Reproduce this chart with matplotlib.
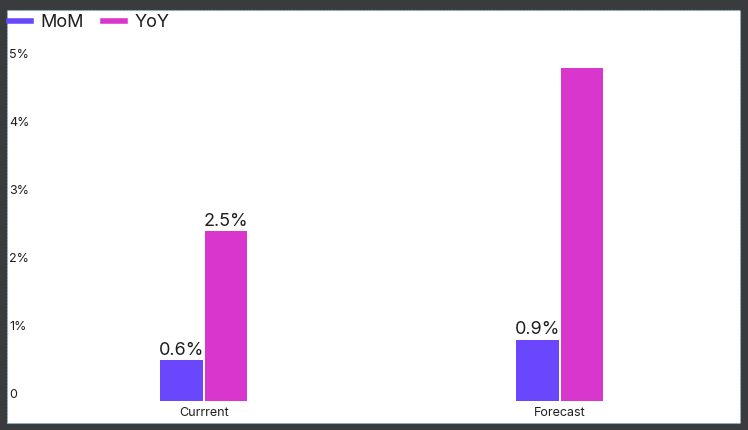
import matplotlib.pyplot as plt
from matplotlib.lines import Line2D
from matplotlib.patches import Rectangle

# chart data
categories = ['Currrent', 'Forecast']
mom = [0.6, 0.9]
yoy = [2.5, 4.9]
mom_labels = ['0.6%', '0.9%']
yoy_labels = ['2.5%', '']
y_ticks = [0, 1, 2, 3, 4, 5]
y_tick_labels = ['0', '1%', '2%', '3%', '4%', '5%']

mom_color = '#6a46fd'
yoy_color = '#d936ce'
text_color = '#1e1e1e'

plt.rcParams['font.family'] = ['Inter', 'DejaVu Sans']

W, H = 748, 430
fig = plt.figure(figsize=(W / 100, H / 100), dpi=100, facecolor='#3a3b3c')

# white card behind the chart
fig.patches.append(Rectangle((7 / W, 7 / H), 733 / W, 413 / H, transform=fig.transFigure,
                             facecolor='white', edgecolor='#8fb4c6', linewidth=0.8,
                             linestyle=(0, (2, 1)), zorder=-5))

ax = fig.add_axes([7 / W, 29 / H, 733 / W, 367 / H])
ax.set_facecolor('none')

x = list(range(len(categories)))
width = 0.12
off = 0.0625
b1 = ax.bar([i - off for i in x], mom, width, color=mom_color)
b2 = ax.bar([i + off for i in x], yoy, width, color=yoy_color)
ax.bar_label(b1, labels=mom_labels, padding=1, fontsize=13, color=text_color)
ax.bar_label(b2, labels=yoy_labels, padding=1, fontsize=13, color=text_color)

ax.set_xlim(-0.553, 1.506)
ax.set_ylim(0, 5.4)
ax.set_xticks(x)
ax.set_xticklabels(categories, fontsize=9, color=text_color)
ax.set_yticks(y_ticks)
ax.set_yticklabels(y_tick_labels, fontsize=9, color=text_color)
ax.tick_params(axis='x', length=0, pad=4.5)
ax.tick_params(axis='y', length=0, pad=-1.5)
for lbl in ax.get_yticklabels():
    lbl.set_horizontalalignment('left')
    lbl.set_verticalalignment('bottom')
for s in ax.spines.values():
    s.set_visible(False)

handles = [Line2D([], [], color=mom_color, lw=4), Line2D([], [], color=yoy_color, lw=4)]
fig.legend(handles, ['MoM', 'YoY'], loc='upper left', bbox_to_anchor=(9 / W, 1 - 14 / H),
           ncol=2, frameon=False, fontsize=13, handlelength=1.2, handletextpad=0.55,
           columnspacing=1.05, borderpad=0, borderaxespad=0, labelcolor=text_color)

fig.savefig('out.png', dpi=100, facecolor=fig.get_facecolor())
